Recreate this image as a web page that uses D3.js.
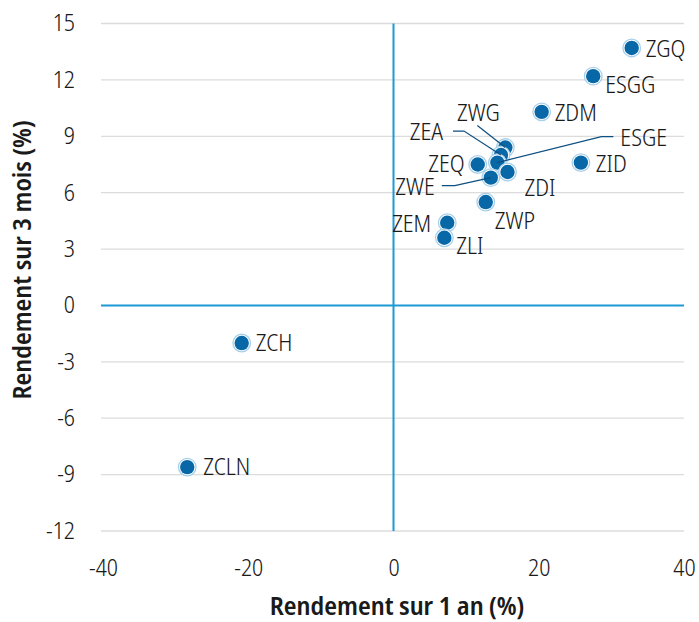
<!DOCTYPE html>
<html>
<head>
<meta charset="utf-8">
<script src="https://cdn.jsdelivr.net/npm/d3@7"></script>
<style>
  body { margin: 0; background: #fff; }
  svg text { font-family: "Noto Sans Display", "Open Sans", sans-serif; font-stretch: condensed; font-weight: 300; fill: #1a1a1a; }
  svg text.title { font-stretch: semi-condensed; font-weight: 600; }
</style>
</head>
<body>
<svg id="chart" width="699" height="622"></svg>
<script>
const tickers = ["ZGQ", "ESGG", "ZDM", "ZID", "ZWG", "ZEA", "ESGE", "ZEQ", "ZDI", "ZWE", "ZWP", "ZEM", "ZLI", "ZCH", "ZCLN"];
const oneYear = [32.8, 27.5, 20.4, 25.8, 15.4, 14.8, 14.3, 11.6, 15.7, 13.4, 12.7, 7.4, 7.0, -20.9, -28.4];
const threeMonth = [13.7, 12.2, 10.3, 7.6, 8.4, 8.0, 7.6, 7.5, 7.1, 6.8, 5.5, 4.4, 3.6, -2.0, -8.6];
const xTicks = [-40, -20, 0, 20, 40];
const yTicks = [15, 12, 9, 6, 3, 0, -3, -6, -9, -12];

const data = tickers.map((t, i) => ({ name: t, x: oneYear[i], y: threeMonth[i] }));

// label placement: offsets in px from the dot, plus leader lines for the crowded ones
const place = {
  ZGQ:  { dx: 14, dy: 1, anchor: "start" },
  ESGG: { dx: 12, dy: 9, anchor: "start" },
  ZDM:  { dx: 13, dy: 1, anchor: "start" },
  ZID:  { dx: 15, dy: 1, anchor: "start" },
  ZEQ:  { dx: -13, dy: -1, anchor: "end" },
  ZDI:  { dx: 17, dy: 16, anchor: "start" },
  ZWP:  { dx: 9, dy: 19, anchor: "start" },
  ZEM:  { dx: -16, dy: 1, anchor: "end" },
  ZLI:  { dx: 12, dy: 8, anchor: "start" },
  ZCH:  { dx: 14, dy: 0, anchor: "start" },
  ZCLN: { dx: 16, dy: 0, anchor: "start" },
  ZWG:  { dx: -27, dy: -35, anchor: "middle", leader: [[-28, -22]] },
  ZEA:  { dx: -58, dy: -23, anchor: "end", leader: [[-48, -24], [-37, -24]] },
  ESGE: { dx: 123, dy: -25, anchor: "start", leader: [[116, -26], [104, -26]] },
  ZWE:  { dx: -56, dy: 9, anchor: "end", leader: [[-49, 8], [-36, 8]] }
};

const svg = d3.select("#chart");

const x = d3.scaleLinear().domain([-40, 40]).range([103, 684]);
const y = d3.scaleLinear().domain([-12, 15]).range([531, 23.5]);

// horizontal gridlines
svg.append("g")
    .selectAll("line")
    .data(yTicks.filter(d => d !== 0))
    .enter().append("line")
    .attr("x1", x(-40) - 2)
    .attr("x2", x(40))
    .attr("y1", d => y(d))
    .attr("y2", d => y(d))
    .attr("stroke", "#dcdcdc")
    .attr("stroke-width", 1.3);

// zero lines
svg.append("line")
    .attr("x1", x(-40) - 2).attr("x2", x(40))
    .attr("y1", y(0)).attr("y2", y(0))
    .attr("stroke", "#1c9ad6").attr("stroke-width", 2);
svg.append("line")
    .attr("x1", x(0)).attr("x2", x(0))
    .attr("y1", y(15)).attr("y2", y(-12))
    .attr("stroke", "#1c9ad6").attr("stroke-width", 2);

// axes (text only)
const yAxis = d3.axisLeft(y).tickValues(yTicks).tickFormat(d => String(d)).tickSize(0).tickPadding(0);
svg.append("g")
    .attr("transform", "translate(75,0)")
    .call(yAxis)
    .call(g => g.select(".domain").remove())
    .selectAll("text")
    .attr("font-size", 23)
    .attr("font-family", null)
    .attr("fill", null);

const xAxis = d3.axisBottom(x).tickValues(xTicks).tickFormat(d => String(d)).tickSize(0).tickPadding(0);
svg.append("g")
    .attr("transform", "translate(0,560)")
    .call(xAxis)
    .call(g => g.select(".domain").remove())
    .selectAll("text")
    .attr("font-size", 23)
    .attr("font-family", null)
    .attr("fill", null);

// axis titles
svg.append("text")
    .attr("class", "title")
    .attr("x", 397)
    .attr("y", 615)
    .attr("text-anchor", "middle")
    .attr("font-size", 25)
    .text("Rendement sur 1 an (%)");

svg.append("text")
    .attr("class", "title")
    .attr("transform", "translate(31,260) rotate(-90)")
    .attr("text-anchor", "middle")
    .attr("font-size", 25)
    .text("Rendement sur 3 mois (%)");

// dots
const dots = svg.append("g")
    .selectAll("g")
    .data(data)
    .enter().append("g")
    .attr("transform", d => `translate(${x(d.x)},${y(d.y)})`);

dots.append("circle")
    .attr("r", 8.8)
    .attr("fill", "#fff")
    .attr("stroke", "#a9d0ea")
    .attr("stroke-width", 1.3);
dots.append("circle")
    .attr("r", 7.2)
    .attr("fill", "#0868a7");

// leader lines
svg.append("g")
    .selectAll("path")
    .data(data.filter(d => place[d.name].leader))
    .enter().append("path")
    .attr("fill", "none")
    .attr("stroke", "#0d4f80")
    .attr("stroke-width", 1.2)
    .attr("d", d => {
        const px = x(d.x), py = y(d.y);
        const pts = place[d.name].leader.map(p => [px + p[0], py + p[1]]);
        pts.push([px, py]);
        return d3.line()(pts);
    });

// labels
svg.append("g")
    .selectAll("text")
    .data(data)
    .enter().append("text")
    .attr("x", d => x(d.x) + place[d.name].dx)
    .attr("y", d => y(d.y) + place[d.name].dy)
    .attr("dy", "0.35em")
    .attr("text-anchor", d => place[d.name].anchor)
    .attr("font-size", 23)
    .text(d => d.name);
</script>
</body>
</html>
